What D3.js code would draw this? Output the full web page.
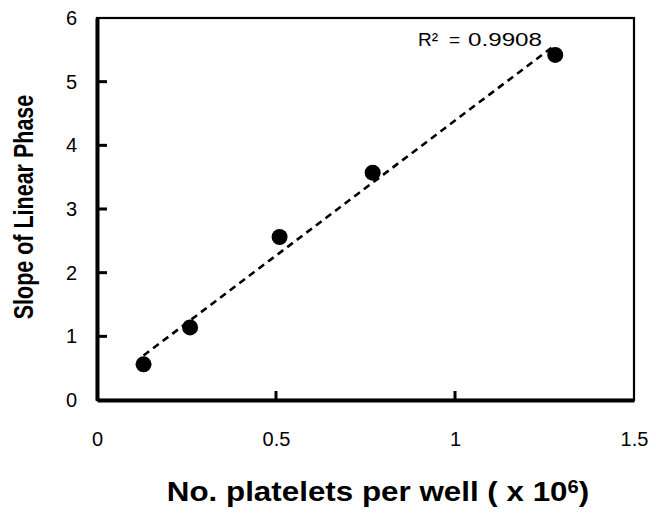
<!DOCTYPE html>
<html>
<head>
<meta charset="utf-8">
<script src="https://cdn.jsdelivr.net/npm/d3@7"></script>
<style>
  body { margin: 0; background: #fff; }
  text { font-family: "Liberation Sans", Arial, sans-serif; }
</style>
</head>
<body>
<svg id="chart"></svg>
<script>
const width = 656
const height = 520

const platelets = [0.13, 0.26, 0.51, 0.77, 1.28]
const slopes = [0.56, 1.14, 2.56, 3.57, 5.42]
const xTicks = [0, 0.5, 1, 1.5]
const yTicks = [0, 1, 2, 3, 4, 5, 6]
const rSquared = '0.9908'

const margin = { left: 97, right: 22, top: 18, bottom: 120 }

const svg = d3.select('#chart')
  .attr('width', width)
  .attr('height', height)

const x = d3.scaleLinear().domain([0, 1.5]).range([margin.left, width - margin.right])
const y = d3.scaleLinear().domain([0, 6]).range([height - margin.bottom, margin.top])

// frame
svg.append('rect')
  .attr('x', x(0)).attr('y', y(6))
  .attr('width', x(1.5) - x(0)).attr('height', y(0) - y(6))
  .attr('fill', 'none').attr('stroke', '#000').attr('stroke-width', 2.2)

// axes (labels from d3, tick marks drawn inward below)
const xAxis = svg.append('g')
  .attr('transform', `translate(0,${y(0)})`)
  .call(d3.axisBottom(x).tickValues(xTicks).tickSize(0).tickPadding(32).tickFormat(d3.format('')))
const yAxis = svg.append('g')
  .attr('transform', `translate(${x(0)},0)`)
  .call(d3.axisLeft(y).tickValues(yTicks).tickSize(0).tickPadding(20).tickFormat(d3.format('')))

for (const g of [xAxis, yAxis]) {
  g.select('.domain').attr('stroke-width', 4)
  g.selectAll('.tick text').attr('font-size', 20).attr('fill', '#000')
    .style('font-family', '"Liberation Sans", Arial, sans-serif')
}

// inward tick marks
svg.append('g')
  .selectAll('rect')
  .data(xTicks.slice(1, -1))
  .enter()
  .append('rect')
  .attr('x', d => x(d) - 1.5)
  .attr('y', y(0) - 9)
  .attr('width', 3)
  .attr('height', 9)
  .attr('fill', '#000')

svg.append('g')
  .selectAll('rect')
  .data(yTicks.slice(1, -1))
  .enter()
  .append('rect')
  .attr('x', x(0))
  .attr('y', d => y(d) - 1.5)
  .attr('width', 10)
  .attr('height', 3)
  .attr('fill', '#000')

// least squares trend line
const mx = d3.mean(platelets)
const my = d3.mean(slopes)
const b = d3.sum(platelets.map((v, i) => (v - mx) * (slopes[i] - my))) /
  d3.sum(platelets.map(v => (v - mx) ** 2))
const a = my - b * mx
const ends = d3.extent(platelets)

svg.append('line')
  .attr('x1', x(ends[0])).attr('y1', y(a + b * ends[0]))
  .attr('x2', x(ends[1])).attr('y2', y(a + b * ends[1]))
  .attr('stroke', '#000').attr('stroke-width', 2.6)
  .attr('stroke-dasharray', '7,5')

svg.append('g')
  .selectAll('circle')
  .data(platelets)
  .enter()
  .append('circle')
  .attr('cx', d => x(d))
  .attr('cy', (d, i) => y(slopes[i]))
  .attr('r', 8)
  .attr('fill', '#000')

// R² label
const rl = svg.append('text')
  .attr('y', 46)
  .attr('font-size', 19)
rl.append('tspan').attr('x', 418).text('R²')
rl.append('tspan').attr('x', 449).text('=')
rl.append('tspan').attr('x', 468)
  .attr('textLength', 74).attr('lengthAdjust', 'spacingAndGlyphs')
  .text(rSquared)

// axis titles
const xt = svg.append('text')
  .attr('transform', 'translate(378,501) scale(1.12,1)')
  .attr('text-anchor', 'middle')
  .attr('font-size', 28).attr('font-weight', 'bold')
xt.append('tspan').text('No. platelets per well ( x 10')
xt.append('tspan').attr('font-size', 18).attr('dy', -8).text('6')
xt.append('tspan').attr('dy', 8).text(')')

svg.append('text')
  .attr('transform', 'translate(33,207) scale(1.25,1) rotate(-90)')
  .attr('text-anchor', 'middle')
  .attr('font-size', 21.5).attr('font-weight', 'bold')
  .text('Slope of Linear Phase')
</script>
</body>
</html>
